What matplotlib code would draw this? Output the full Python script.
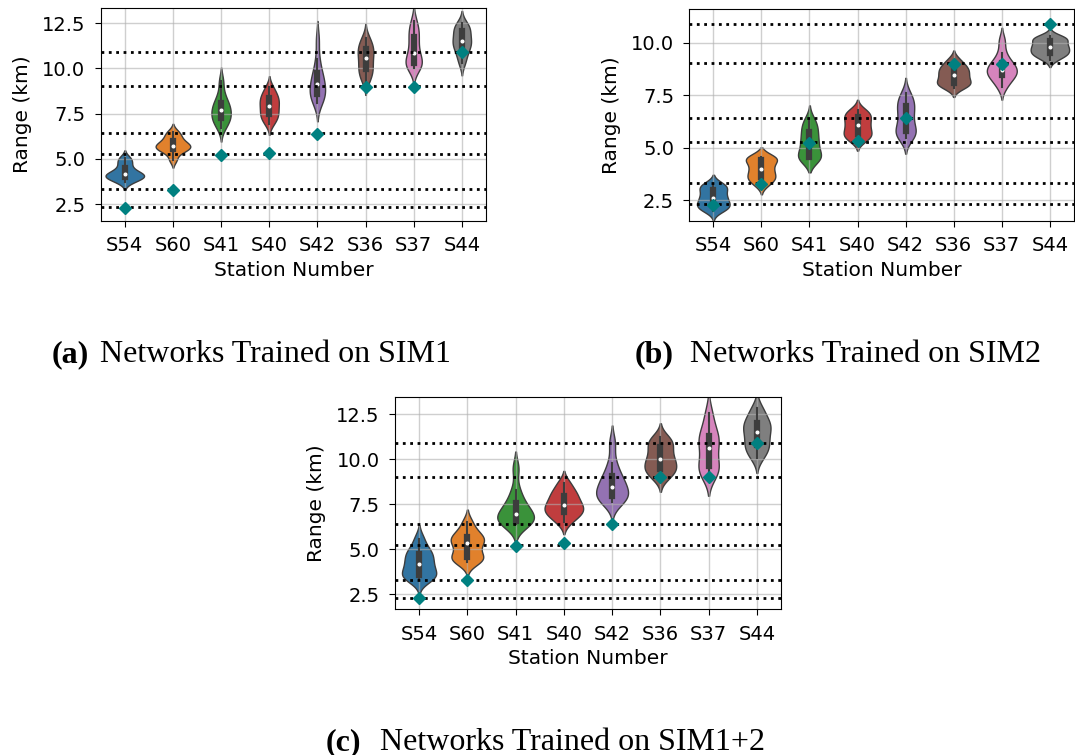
import matplotlib
matplotlib.use("Agg")
import matplotlib.pyplot as plt
import numpy as np
import pandas as pd
import seaborn as sns

# stations, reference ranges (km)
stations = ['S54', 'S60', 'S41', 'S40', 'S42', 'S36', 'S37', 'S44']
true_range = [2.3, 3.3, 5.21, 5.34, 6.4, 9.0, 9.0, 10.9]
ref_lines = [2.31, 3.31, 5.26, 6.42, 9.02, 10.91]
palette = sns.color_palette('tab10', 8)

# predicted ranges per station
sim1 = [
    [3.7, 3.88, 3.95, 4.0, 4.08, 4.15, 4.22, 4.35, 4.6, 4.85, 5.05],
    [4.95, 5.35, 5.5, 5.57, 5.66, 5.73, 5.8, 5.92, 6.1, 6.3, 6.5],
    [6.7, 7.0, 7.2, 7.28, 7.5, 7.68, 7.82, 8.02, 8.2, 8.6, 9.3],
    [6.95, 7.2, 7.4, 7.52, 7.75, 7.94, 8.1, 8.3, 8.42, 8.65, 8.95],
    [8.1, 8.35, 8.52, 8.62, 8.9, 9.12, 9.3, 9.6, 9.86, 10.5, 11.6],
    [9.3, 9.6, 9.88, 10.02, 10.3, 10.56, 10.78, 11.0, 11.15, 11.4, 11.7],
    [10.05, 10.15, 10.25, 10.33, 10.6, 10.88, 11.2, 11.62, 11.9, 12.2, 12.6],
    [10.3, 10.7, 11.0, 11.22, 11.38, 11.52, 11.7, 11.95, 12.15, 12.3, 12.5],
]
sim2 = [
    [2.0, 2.15, 2.22, 2.3, 2.48, 2.6, 2.72, 2.92, 3.08, 3.18, 3.28],
    [3.25, 3.45, 3.58, 3.65, 3.85, 4.0, 4.15, 4.38, 4.5, 4.52, 4.55],
    [4.5, 4.52, 4.55, 4.6, 5.0, 5.2, 5.35, 5.65, 5.85, 6.1, 6.35],
    [5.35, 5.5, 5.62, 5.72, 5.9, 6.07, 6.2, 6.4, 6.52, 6.65, 6.8],
    [5.45, 5.6, 5.75, 5.85, 6.1, 6.4, 6.65, 6.9, 7.1, 7.3, 7.6],
    [7.85, 8.0, 8.06, 8.12, 8.3, 8.45, 8.55, 8.7, 8.82, 8.95, 9.2],
    [7.9, 8.2, 8.4, 8.5, 8.6, 8.7, 8.85, 9.0, 9.1, 9.5, 10.1],
    [9.2, 9.4, 9.47, 9.55, 9.7, 9.78, 9.86, 10.02, 10.15, 10.22, 10.3],
]
sim12 = [
    [3.3, 3.45, 3.55, 3.65, 3.95, 4.16, 4.35, 4.65, 4.8, 5.05, 5.6],
    [4.3, 4.42, 4.52, 4.65, 5.0, 5.33, 5.45, 5.6, 5.75, 6.0, 6.5],
    [6.4, 6.48, 6.56, 6.62, 6.85, 6.99, 7.15, 7.45, 7.72, 8.3, 9.5],
    [6.5, 6.85, 7.0, 7.1, 7.32, 7.46, 7.58, 7.88, 8.05, 8.3, 8.7],
    [7.65, 7.78, 7.9, 7.98, 8.25, 8.46, 8.65, 8.95, 9.2, 9.8, 10.9],
    [8.95, 9.25, 9.42, 9.55, 9.8, 10.0, 10.2, 10.55, 10.8, 11.0, 11.25],
    [9.1, 9.3, 9.5, 9.75, 10.2, 10.63, 10.95, 11.2, 11.4, 11.9, 12.6],
    [10.1, 10.45, 10.7, 10.9, 11.2, 11.5, 11.75, 11.9, 12.1, 12.45, 12.85],
]

panels = [
    (sim1, [0.0937, 0.7073, 0.3583, 0.2827], (1.56, 13.37), [2.5, 5.0, 7.5, 10.0, 12.5]),
    (sim2, [0.6412, 0.7073, 0.3578, 0.2807], (1.52, 11.6), [2.5, 5.0, 7.5, 10.0]),
    (sim12, [0.3674, 0.1930, 0.3591, 0.2816], (1.67, 13.48), [2.5, 5.0, 7.5, 10.0, 12.5]),
]

fig = plt.figure(figsize=(10.75, 7.55), dpi=100)

for samples, rect, ylim, yticks in panels:
    ax = fig.add_axes(rect)
    df = pd.DataFrame({
        'Station': [s for s, vals in zip(stations, samples) for _ in vals],
        'Range': [v for vals in samples for v in vals],
    })
    sns.violinplot(data=df, x='Station', y='Range', hue='Station', order=stations,
                   hue_order=stations, palette=palette, legend=False, inner='box',
                   density_norm='area', common_norm=True, bw_adjust=0.8, linewidth=1,
                   inner_kws=dict(marker='o', markersize=2), ax=ax)
    for v in ref_lines:
        ax.axhline(v, color='black', linestyle=':', linewidth=2)
    ax.plot(range(len(stations)), true_range, 'D', color='teal', markersize=6, zorder=4)
    ax.grid(True, color='#b0b0b0', alpha=0.6, linewidth=1)
    ax.set_xlim(-0.5, 7.5)
    ax.set_ylim(*ylim)
    ax.set_yticks(yticks)
    ax.set_xlabel('Station Number', fontsize=14.5)
    ax.set_ylabel('Range (km)', fontsize=14.5, labelpad=7)
    ax.tick_params(labelsize=14, length=4.5, pad=6.5)

serif = 'Liberation Serif'
captions = [
    (52, 100, 362, '(a)', 'Networks Trained on SIM1'),
    (635, 690, 362, '(b)', 'Networks Trained on SIM2'),
    (326, 380, 750, '(c)', 'Networks Trained on SIM1+2'),
]
for xl, xt, yb, lab, txt in captions:
    fig.text(xl / 1075, 1 - yb / 755, lab, fontsize=23, fontweight='bold',
             family=serif, ha='left', va='baseline')
    fig.text(xt / 1075, 1 - yb / 755, txt, fontsize=23, family=serif,
             ha='left', va='baseline')

fig.savefig('out.png', dpi=100)
